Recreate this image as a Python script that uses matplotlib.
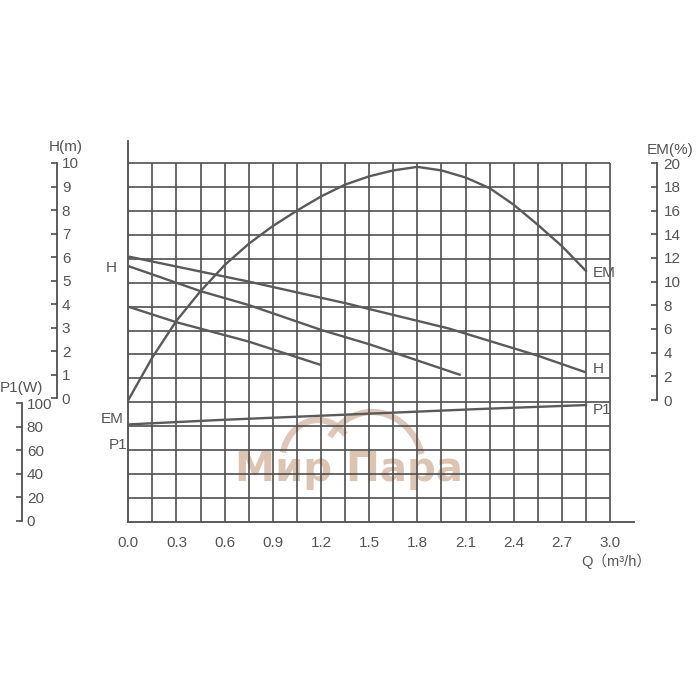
import matplotlib
matplotlib.use('Agg')
import matplotlib.pyplot as plt
import numpy as np
from matplotlib.patches import Arc

plt.rcParams['font.family'] = ['Liberation Sans', 'DejaVu Sans', 'Noto Sans CJK SC']

# ---------------- data ----------------
q_em = [0.0, 0.15, 0.3, 0.45, 0.6, 0.75, 0.9, 1.05, 1.2, 1.35,
        1.5, 1.65, 1.8, 1.95, 2.1, 2.25, 2.4, 2.55, 2.7, 2.85]
em = [0.0, 3.6, 6.7, 9.2, 11.4, 13.2, 14.7, 16.0, 17.2, 18.2,
      18.9, 19.4, 19.7, 19.4, 18.8, 17.9, 16.5, 14.8, 13.0, 10.9]

q_h1 = [0.0, 0.75, 1.35, 2.0, 2.55, 2.85]
h1 = [6.1, 5.05, 4.15, 3.08, 1.95, 1.25]
q_h2 = [0.0, 0.45, 0.75, 1.2, 1.5, 2.07]
h2 = [5.7, 4.65, 4.07, 3.03, 2.43, 1.14]
q_h3 = [0.0, 0.3, 0.75, 1.2]
h3 = [4.0, 3.35, 2.54, 1.56]

q_p1 = [0.0, 0.57, 2.18, 2.85]
p1 = [82.0, 85.8, 95.1, 98.5]

q_ticks = [0.0, 0.3, 0.6, 0.9, 1.2, 1.5, 1.8, 2.1, 2.4, 2.7, 3.0]
q_tick_labels = ['0.0', '0.3', '0.6', '0.9', '1.2', '1.5', '1.8', '2.1', '2.4', '2.7', '3.0']
h_ticks = [0, 1, 2, 3, 4, 5, 6, 7, 8, 9, 10]
em_ticks = [0, 2, 4, 6, 8, 10, 12, 14, 16, 18, 20]
p1_ticks = [0, 20, 40, 60, 80, 100]

# ---------------- layout helpers (pixels of a 700x700 canvas) ----------------
W = 700.0
LEFT, RIGHT, BOTTOM, TOP = 128.3, 634.0, 521.8, 141.0
PX_Q, PX_H = 160.6, 23.9
AXW, AXH = RIGHT - LEFT, BOTTOM - TOP

def lim_from_px(v0, p0, v1, p1_):
    f0 = (BOTTOM - p0) / AXH
    f1 = (BOTTOM - p1_) / AXH
    span = (v1 - v0) / (f1 - f0)
    a = v0 - f0 * span
    return a, a + span

def spine_pos(px):
    return (px - LEFT) / AXW

INK = '#4f4f4f'
TXT = '#555555'
FS = 11

fig = plt.figure(figsize=(7, 7), dpi=100)
fig.patch.set_facecolor('white')
ax = fig.add_axes([LEFT / W, 1 - BOTTOM / W, AXW / W, AXH / W])
ax.set_xlim(0, AXW / PX_Q)
ax.set_ylim(-5, -5 + AXH / PX_H)

for s in ('top', 'right'):
    ax.spines[s].set_visible(False)
for s in ('left', 'bottom'):
    ax.spines[s].set_color(INK)
    ax.spines[s].set_linewidth(1.3)
ax.set_yticks([])
ax.set_xticks(q_ticks, q_tick_labels)
ax.tick_params(axis='x', length=0, pad=10, labelsize=FS, labelcolor=TXT)

# grid
ax.vlines(np.arange(1, 21) * 0.15, -5, 10, color=INK, lw=1.2, zorder=2)
ax.hlines(np.arange(-4, 11), 0, 3.0, color=INK, lw=1.2, zorder=2)

# H curves
for qq, hh in ((q_h1, h1), (q_h2, h2), (q_h3, h3)):
    ax.plot(qq, hh, color='#5a5a5a', lw=1.7, zorder=3, solid_capstyle='butt')

# EM axis (right)
ax_e = ax.twinx()
ax_e.set_ylim(*lim_from_px(0, 400.0, 20, 163.3))
ax_e.plot(q_em, em, color='#5a5a5a', lw=1.7, zorder=3)

# H axis (left, detached)
ax_h = ax.twinx()
ax_h.set_ylim(*lim_from_px(0, 398.3, 10, 163.0))

# P1 axis (far left, detached)
ax_p = ax.twinx()
ax_p.set_ylim(*lim_from_px(0, 520.7, 100, 403.3))
ax_p.plot(q_p1, p1, color='#5a5a5a', lw=1.7, zorder=3)

for a_, px, bounds, ticks, pad in ((ax_e, 656.7, (0, 20), em_ticks, 5),
                                   (ax_h, 57.0, (0, 10), h_ticks, 3.5),
                                   (ax_p, 22.0, (0, 100), p1_ticks, 3.5)):
    for s in ('top', 'left', 'bottom'):
        a_.spines[s].set_visible(False)
    a_.spines['right'].set_position(('axes', spine_pos(px)))
    a_.spines['right'].set_bounds(*bounds)
    a_.spines['right'].set_color(INK)
    a_.spines['right'].set_linewidth(1.3)
    a_.set_yticks(ticks)
    a_.tick_params(axis='y', direction='in', length=4, width=1.2, color=INK,
                   pad=pad, labelsize=FS, labelcolor=TXT)

# axis titles
fig.text(66 / W, 1 - 147 / W, 'H(m)', ha='center', va='center', fontsize=FS, color=TXT)
fig.text(21 / W, 1 - 388 / W, 'P1(W)', ha='center', va='center', fontsize=FS, color=TXT)
fig.text(670 / W, 1 - 150 / W, 'EM(%)', ha='center', va='center', fontsize=FS, color=TXT)
fig.text(616 / W, 1 - 561 / W, 'Q（m³/h）', ha='center', va='center', fontsize=FS - 0.5, color=TXT,
         family=['Liberation Sans', 'Noto Sans CJK SC'])

# curve labels
lab = dict(fontsize=FS, color=TXT, va='center', zorder=4)
ax.text(-0.075, 5.62, 'H', ha='right', **lab)
ax.text(-0.03, -0.70, 'EM', ha='right', **lab)
ax.text(-0.005, -1.79, 'P1', ha='right', **lab)
ax.text(2.89, 5.41, 'EM', ha='left', **lab)
ax.text(2.89, 1.39, 'H', ha='left', **lab)
ax.text(2.89, -0.32, 'P1', ha='left', **lab)

# watermark
WM = '#d6baa6'
ax.text(348.5 / W, 1 - 470 / W, 'Мир Пара', transform=fig.transFigure, ha='center', va='center',
        fontsize=29, fontweight='bold', family='DejaVu Sans', color=WM, alpha=0.85, zorder=1)
for cx, cy, rx, ry, t1, t2 in ((318, 462, 36, 42, 45, 165), (372, 472, 52, 60, 20, 140)):
    arc = Arc((cx / W, 1 - cy / W), 2 * rx / W, 2 * ry / W, theta1=t1, theta2=t2,
              transform=fig.transFigure, color=WM, lw=4.5, alpha=0.8, zorder=1)
    ax.add_patch(arc)

fig.savefig('out.png', dpi=100, facecolor='white')
